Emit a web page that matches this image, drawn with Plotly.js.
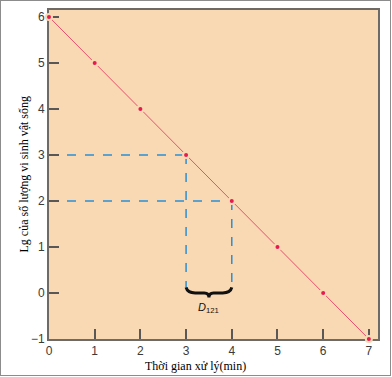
<!DOCTYPE html>
<html><head><meta charset="utf-8">
<script src="https://cdn.plot.ly/plotly-3.0.1.min.js"></script>
<style>
body{margin:0;padding:0;background:#fff;}
#wrap{position:relative;width:392px;height:377px;}
#chart{position:absolute;left:0;top:0;width:392px;height:377px;}
#frame{position:absolute;left:0;top:0;width:391px;height:376px;box-sizing:border-box;border:1px solid #8c8c8c;pointer-events:none;}
</style>
</head><body>
<div id="wrap"><div id="chart"></div><div id="frame"></div></div>
<script>
const timeMin = [0, 1, 2, 3, 4, 5, 6, 7];
const logCount = [6, 5, 4, 3, 2, 1, 0, -1];
const xTicks = [0, 1, 2, 3, 4, 5, 6, 7];
const yTicks = [-1, 0, 1, 2, 3, 4, 5, 6];
const guideX = [3, 4];
const guideY = [3, 2];
const braceBottom = 0.12;
const xTitle = "Thời gian xử lý(min)";
const yTitle = "Lg của số lượng vi sinh vật sống";
const braceLabel = "<i>D</i><sub>121</sub>";

const bg = "#f8d9b4";
const blue = "#2a8fd6";
const serif = "Liberation Serif, Times New Roman, serif";

const shapes = [];
for (let i = 0; i < guideX.length; i++) {
  shapes.push({type:"line", xref:"x", yref:"y", x0:0, x1:guideX[i], y0:guideY[i], y1:guideY[i],
    line:{color:blue, width:1.5, dash:"dash"}, layer:"below"});
  shapes.push({type:"line", xref:"x", yref:"y", x0:guideX[i], x1:guideX[i], y0:guideY[i], y1:braceBottom,
    line:{color:blue, width:1.5, dash:"dash"}, layer:"below"});
}
const a = guideX[0], b = guideX[1], m = (a + b) / 2;
shapes.push({type:"path", xref:"x", yref:"y",
  path:`M ${a},${braceBottom} Q ${a+0.03},0.0 ${a+0.2},0.0 L ${m-0.1},0.0 Q ${m},0.0 ${m},-0.1 Q ${m},0.0 ${m+0.1},0.0 L ${b-0.2},0.0 Q ${b-0.03},0.0 ${b},${braceBottom}`,
  line:{color:"#111", width:3}});

const trace = {
  x: timeMin, y: logCount, mode: "lines+markers", type: "scatter",
  line:{color:"#e8506e", width:1},
  marker:{color:"#e8194f", size:6, line:{color:bg, width:2}},
  cliponaxis:false, hoverinfo:"skip"
};

const axisCommon = {
  showgrid:false, zeroline:false, showline:true, mirror:true, layer:"below traces",
  linecolor:"#6e6a66", linewidth:2, ticks:"inside", ticklen:10, tickwidth:2, tickcolor:"#5a5856",
  tickfont:{family:"Arial, Liberation Sans, sans-serif", size:12, color:"#3a3a3a"}
};

const layout = {
  width:392, height:377,
  margin:{l:49, r:14, t:10, b:38},
  paper_bgcolor:"rgba(0,0,0,0)", plot_bgcolor:bg,
  showlegend:false,
  xaxis:Object.assign({}, axisCommon, {range:[0, 7.2], tickvals:xTicks, ticktext:xTicks.map(String), ticklabelstandoff:0}),
  yaxis:Object.assign({}, axisCommon, {range:[-1, 6.15], tickvals:yTicks, ticktext:yTicks.map(v => v < 0 ? "\u2212" + Math.abs(v) : String(v))}),
  shapes: shapes,
  annotations:[
    {xref:"x", yref:"y", x:m, y:-0.32, text:braceLabel, showarrow:false,
     font:{family:"Arial, Liberation Sans, sans-serif", size:11, color:"#111"}},
    {xref:"paper", yref:"paper", x:0.444, y:-0.081, text:xTitle, showarrow:false,
     xanchor:"center", yanchor:"middle", font:{family:serif, size:12, color:"#000"}},
    {xref:"paper", yref:"paper", x:-0.079, y:0.50, text:yTitle, showarrow:false, textangle:-90,
     xanchor:"center", yanchor:"middle", font:{family:serif, size:12, color:"#000"}}
  ]
};

Plotly.newPlot("chart", [trace], layout, {displayModeBar:false, staticPlot:true});
</script>
</body></html>
